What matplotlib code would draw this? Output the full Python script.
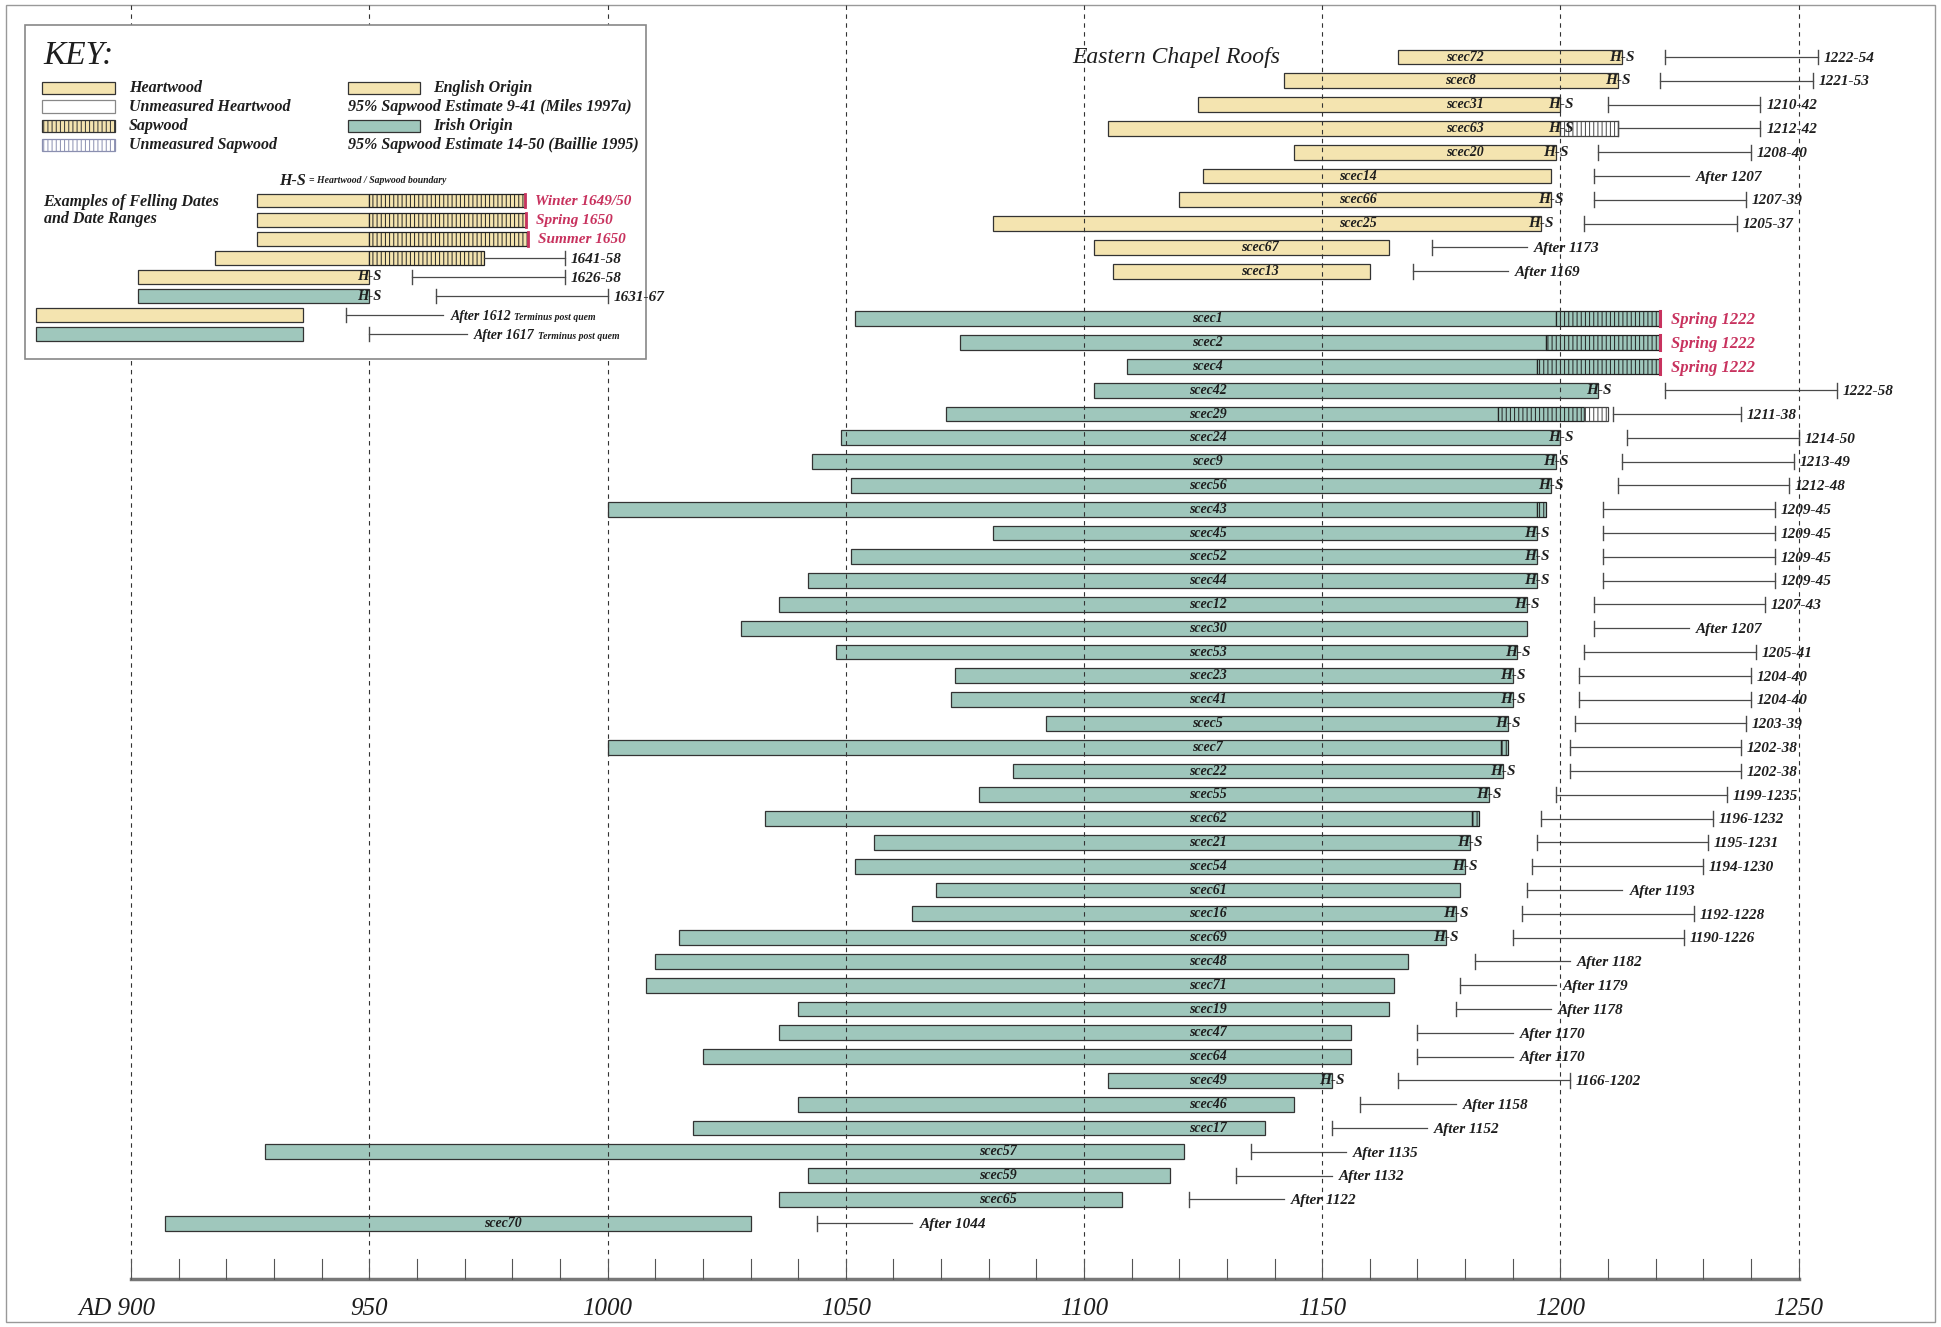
import matplotlib.pyplot as plt
from matplotlib.patches import Rectangle

plt.rcParams['font.family'] = ['Liberation Serif', 'DejaVu Serif']
plt.rcParams['hatch.linewidth'] = 0.7

# colours
ENG = '#f4e4b0'
IRL = '#9fc7bc'
EDGE = '#333333'
RED = '#c8325e'
INK = '#1e1e1e'
LINE = '#4a4a4a'

# English-origin timbers (top block)
eng_names = ['scec72', 'scec8', 'scec31', 'scec63', 'scec20',
             'scec14', 'scec66', 'scec25', 'scec67', 'scec13']
eng_start = [1166, 1142, 1124, 1105, 1144, 1125, 1120, 1081, 1102, 1106]
eng_hw_end = [1213, 1212, 1200, 1200, 1199, 1198, 1198, 1196, 1164, 1160]
eng_label_x = [1180, 1179, 1180, 1180, 1180, 1157.5, 1157.5, 1157.5, 1137, 1137]

# Irish-origin timbers
irl_names = ['scec1', 'scec2', 'scec4', 'scec42', 'scec29', 'scec24', 'scec9',
             'scec56', 'scec43', 'scec45', 'scec52', 'scec44', 'scec12', 'scec30',
             'scec53', 'scec23', 'scec41', 'scec5', 'scec7', 'scec22', 'scec55',
             'scec62', 'scec21', 'scec54', 'scec61', 'scec16', 'scec69', 'scec48',
             'scec71', 'scec19', 'scec47', 'scec64', 'scec49', 'scec46', 'scec17',
             'scec57', 'scec59', 'scec65', 'scec70']
irl_start = [1052, 1074, 1109, 1102, 1071, 1049, 1043, 1051, 1000, 1081, 1051,
             1042, 1036, 1028, 1048, 1073, 1072, 1092, 1000, 1085, 1078, 1033,
             1056, 1052, 1069, 1064, 1015, 1010, 1008, 1040, 1036, 1020, 1105,
             1040, 1018, 928, 1042, 1036, 907]
irl_hw_end = [1199, 1197, 1195, 1208, 1187, 1200, 1199, 1198, 1195, 1195, 1195,
              1195, 1193, 1193, 1191, 1190, 1190, 1189, 1187.5, 1188, 1185, 1181.5,
              1181, 1180, 1179, 1178, 1176, 1168, 1165, 1164, 1156, 1156, 1152,
              1144, 1138, 1121, 1118, 1108, 1030]
irl_label_x = [1126] * 35 + [1082, 1082, 1082, 978]

sapwood_end = {'scec1': 1221, 'scec2': 1221, 'scec4': 1221, 'scec29': 1205,
               'scec43': 1197, 'scec7': 1189, 'scec62': 1183}
unmeasured_sap_end = {'scec63': 1212, 'scec29': 1210}
hs_marked = ['scec72', 'scec8', 'scec31', 'scec63', 'scec20', 'scec66', 'scec25',
             'scec42', 'scec24', 'scec9', 'scec56', 'scec45', 'scec52', 'scec44',
             'scec12', 'scec53', 'scec23', 'scec41', 'scec5', 'scec22', 'scec55',
             'scec21', 'scec54', 'scec16', 'scec69', 'scec49']
felled = {'scec1': 'Spring 1222', 'scec2': 'Spring 1222', 'scec4': 'Spring 1222'}
date_range = {'scec72': (1222, 1254), 'scec8': (1221, 1253), 'scec31': (1210, 1242),
              'scec63': (1212, 1242), 'scec20': (1208, 1240), 'scec66': (1207, 1239),
              'scec25': (1205, 1237), 'scec42': (1222, 1258), 'scec29': (1211, 1238),
              'scec24': (1214, 1250), 'scec9': (1213, 1249), 'scec56': (1212, 1248),
              'scec43': (1209, 1245), 'scec45': (1209, 1245), 'scec52': (1209, 1245),
              'scec44': (1209, 1245), 'scec12': (1207, 1243), 'scec53': (1205, 1241),
              'scec23': (1204, 1240), 'scec41': (1204, 1240), 'scec5': (1203, 1239),
              'scec7': (1202, 1238), 'scec22': (1202, 1238), 'scec55': (1199, 1235),
              'scec62': (1196, 1232), 'scec21': (1195, 1231), 'scec54': (1194, 1230),
              'scec16': (1192, 1228), 'scec69': (1190, 1226), 'scec49': (1166, 1202)}
after_date = {'scec14': 1207, 'scec67': 1173, 'scec13': 1169, 'scec30': 1207,
              'scec61': 1193, 'scec48': 1182, 'scec71': 1179, 'scec19': 1178,
              'scec47': 1170, 'scec64': 1170, 'scec46': 1158, 'scec17': 1152,
              'scec57': 1135, 'scec59': 1132, 'scec65': 1122, 'scec70': 1044}

# key examples (real years; drawn shifted onto the main scale)
key_shift = 667
key_col = ['E', 'E', 'E', 'E', 'E', 'I', 'E', 'I']
key_start = [1593.5, 1593.5, 1593.5, 1584.5, 1568.5, 1568.5, 1547, 1547]
key_hw_end = [1617, 1617, 1617, 1617, 1617, 1617, 1603, 1603]
key_sap_end = [1649.6, 1649.8, 1650.2, 1641, None, None, None, None]
key_text = ['Winter 1649/50', 'Spring 1650', 'Summer 1650', '1641-58',
            '1626-58', '1631-67', 'After 1612', 'After 1617']
key_lo = [None, None, None, 1641, 1626, 1631, 1612, 1617]
key_hi = [None, None, None, 1658, 1658, 1667, None, None]

axis_years = list(range(900, 1251, 50))
minor_years = list(range(900, 1251, 10))

fig = plt.figure(figsize=(19.41, 13.27), dpi=100)
ax = fig.add_axes([0, 0, 1, 1])
ax.set_xlim(872.46, 1279.9)
ax.set_ylim(53.36, -2.395)
ax.axis('off')

bh = 0.62
lab = dict(fontstyle='italic', fontweight='bold', color=INK)


def bar(x0, x1, y, fc, h=bh, hatch=None, ec=EDGE, z=2):
    ax.add_patch(Rectangle((x0, y - h / 2), x1 - x0, h, facecolor=fc, edgecolor=ec,
                           linewidth=0.9, hatch=hatch, zorder=z))


def span(x0, x1, y, ticks=(True, True), h=bh, z=2):
    ax.plot([x0, x1], [y, y], color=LINE, lw=0.9, zorder=z)
    for x, on in zip((x0, x1), ticks):
        if on:
            ax.plot([x, x], [y - h / 2, y + h / 2], color=LINE, lw=1.0, zorder=z)


def range_text(lo, hi):
    if lo // 100 == hi // 100:
        return f'{lo}-{hi % 100:02d}'
    return f'{lo}-{hi}'


# vertical dashed grid
for yr in axis_years:
    ax.plot([yr, yr], [-2.2, 51.34], color='#333', lw=0.8, ls=(0, (4, 4)), zorder=3)

# main rows
names = eng_names + irl_names
starts = eng_start + irl_start
hw_ends = eng_hw_end + irl_hw_end
label_x = eng_label_x + irl_label_x
rows = list(range(len(eng_names))) + [len(eng_names) + 1 + k for k in range(len(irl_names))]

for i, name in enumerate(names):
    y = rows[i]
    col = ENG if i < len(eng_names) else IRL
    bar(starts[i], hw_ends[i], y, col)
    x_end = hw_ends[i]
    if name in sapwood_end:
        bar(x_end, sapwood_end[name], y, col, hatch='||||', ec='#222')
        x_end = sapwood_end[name]
    if name in unmeasured_sap_end:
        bar(x_end, unmeasured_sap_end[name], y, 'white', hatch='||||', ec='#444')
        x_end = unmeasured_sap_end[name]
    ax.text(label_x[i], y, name, ha='center', va='center', fontsize=10, zorder=4, **lab)
    if name in hs_marked:
        ax.text(hw_ends[i], y, 'H-S', ha='center', va='center', fontsize=11, zorder=4, **lab)
    if name in felled:
        ax.plot([x_end, x_end], [y - bh / 2, y + bh / 2], color=RED, lw=2.2, zorder=4)
        ax.text(x_end + 2.2, y + 0.05, felled[name], ha='left', va='center', fontsize=12,
                fontstyle='italic', fontweight='bold', color=RED, zorder=4)
    if name in date_range:
        lo, hi = date_range[name]
        span(lo, hi, y)
        ax.text(hi + 1.2, y + 0.05, range_text(lo, hi), ha='left', va='center',
                fontsize=11, zorder=4, **lab)
    if name in after_date:
        a = after_date[name]
        span(a, a + 20, y, ticks=(True, False))
        ax.text(a + 21.5, y + 0.05, f'After {a}', ha='left', va='center',
                fontsize=11, zorder=4, **lab)

ax.text(1097.5, 0, 'Eastern Chapel Roofs', ha='left', va='center', fontsize=17,
        fontstyle='italic', color=INK, zorder=4)

# bottom axis
ax.plot([900, 1250], [51.34, 51.34], color='#777', lw=2.5, zorder=3)
for yr in minor_years:
    ax.plot([yr, yr], [50.5, 51.34], color='#555', lw=0.8, zorder=3)
for yr in axis_years:
    if yr == 900:
        ax.text(yr + 5, 52.6, f'AD {yr}', ha='right', va='center', fontsize=18,
                fontstyle='italic', color=INK)
    else:
        ax.text(yr, 52.6, str(yr), ha='center', va='center', fontsize=18,
                fontstyle='italic', color=INK)

# outer frame
ax.add_patch(Rectangle((0.003, 0.004), 0.994, 0.992, transform=ax.transAxes,
                       facecolor='none', edgecolor='#999', lw=1.0, zorder=1))

# ---- key box ----
kz = 6
ax.add_patch(Rectangle((877.7, -1.345), 1008.1 - 877.7, 12.69 + 1.345,
                       facecolor='white', edgecolor='#888', lw=1.2, zorder=5))
ax.text(881.6, -0.05, 'KEY:', ha='left', va='center', fontsize=24,
        fontstyle='italic', color=INK, zorder=kz)

sw = 0.52
left_items = [('Heartwood', ENG, None, EDGE), ('Unmeasured Heartwood', 'white', None, '#888'),
              ('Sapwood', ENG, '||||', '#333'), ('Unmeasured Sapwood', 'white', '||||', '#8a8fb0')]
ly = [1.30, 2.08, 2.91, 3.69]
for (txt, fc, ht, ec), y in zip(left_items, ly):
    bar(881.3, 896.6, y, fc, h=sw, hatch=ht, ec=ec, z=kz)
    ax.text(899.5, y, txt, ha='left', va='center', fontsize=11.5, zorder=kz, **lab)

bar(945.5, 960.6, ly[0], ENG, h=sw, z=kz)
ax.text(963.4, ly[0], 'English Origin', ha='left', va='center', fontsize=11.5, zorder=kz, **lab)
ax.text(945.5, ly[1], '95% Sapwood Estimate 9-41 (Miles 1997a)', ha='left', va='center',
        fontsize=11.5, zorder=kz, **lab)
bar(945.5, 960.6, ly[2], IRL, h=sw, z=kz)
ax.text(963.4, ly[2], 'Irish Origin', ha='left', va='center', fontsize=11.5, zorder=kz, **lab)
ax.text(945.5, ly[3], '95% Sapwood Estimate 14-50 (Baillie 1995)', ha='left', va='center',
        fontsize=11.5, zorder=kz, **lab)

ax.text(931.1, 5.2, 'H-S', ha='left', va='center', fontsize=11.5, zorder=kz, **lab)
ax.text(937.3, 5.2, '= Heartwood / Sapwood boundary', ha='left', va='center',
        fontsize=7, zorder=kz, **lab)
ax.text(881.6, 6.08, 'Examples of Felling Dates', ha='left', va='center',
        fontsize=11.5, zorder=kz, **lab)
ax.text(881.6, 6.81, 'and Date Ranges', ha='left', va='center',
        fontsize=11.5, zorder=kz, **lab)

kh = 0.58
for k in range(len(key_text)):
    y = 6.03 + 0.803 * k
    fc = ENG if key_col[k] == 'E' else IRL
    x0 = key_start[k] - key_shift
    x1 = key_hw_end[k] - key_shift
    bar(x0, x1, y, fc, h=kh, z=kz)
    x_end = x1
    if key_sap_end[k] is not None:
        x2 = key_sap_end[k] - key_shift
        bar(x1, x2, y, fc, h=kh, hatch='||||', ec='#222', z=kz)
        x_end = x2
    if key_lo[k] is None:
        ax.plot([x_end, x_end], [y - kh / 2, y + kh / 2], color=RED, lw=2.0, zorder=kz)
        ax.text(x_end + 2.2, y + 0.05, key_text[k], ha='left', va='center', fontsize=11,
                fontstyle='italic', fontweight='bold', color=RED, zorder=kz)
        continue
    if key_sap_end[k] is None and key_hi[k] is not None:
        ax.text(x1, y, 'H-S', ha='center', va='center', fontsize=10.5, zorder=kz, **lab)
    lo = key_lo[k] - key_shift
    if key_hi[k] is not None:
        hi = key_hi[k] - key_shift
        span(lo, hi, y, ticks=(lo > x_end + 0.5, True), h=kh, z=kz)
        ax.text(hi + 1.2, y + 0.05, key_text[k], ha='left', va='center', fontsize=11,
                zorder=kz, **lab)
    else:
        span(lo, lo + 20.5, y, ticks=(True, False), h=kh, z=kz)
        ax.text(lo + 22, y + 0.05, key_text[k], ha='left', va='center', fontsize=10,
                zorder=kz, **lab)
        ax.text(lo + 35.3, y + 0.08, 'Terminus post quem', ha='left', va='center',
                fontsize=7, zorder=kz, **lab)

fig.savefig('out.png', dpi=100)
